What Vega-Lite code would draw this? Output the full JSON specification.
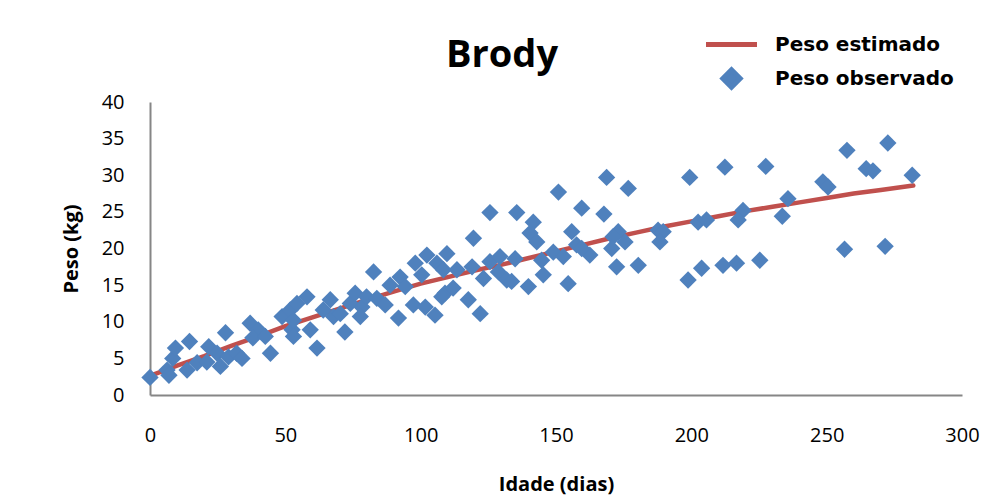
{
  "$schema": "https://vega.github.io/schema/vega-lite/v6.json",
  "width": 812,
  "height": 293,
  "autosize": {"type": "none"},
  "padding": {"left": 150, "top": 102, "right": 35, "bottom": 107},
  "background": "white",
  "config": {"view": {"stroke": null}, "font": "Open Sans"},
  "title": {"text": "Brody", "fontSize": 38, "font": "Open Sans", "fontWeight": "bold", "color": "black", "anchor": "middle", "dx": -54, "baseline": "alphabetic", "offset": -72},
  "datasets": {
    "estimado": [
      {"idade": 0, "peso": 2.6, "serie": "Peso estimado"},
      {"idade": 10, "peso": 4.0, "serie": "Peso estimado"},
      {"idade": 20, "peso": 5.3, "serie": "Peso estimado"},
      {"idade": 30, "peso": 6.7, "serie": "Peso estimado"},
      {"idade": 40, "peso": 8.0, "serie": "Peso estimado"},
      {"idade": 50, "peso": 9.4, "serie": "Peso estimado"},
      {"idade": 60, "peso": 10.6, "serie": "Peso estimado"},
      {"idade": 70, "peso": 11.8, "serie": "Peso estimado"},
      {"idade": 80, "peso": 13.0, "serie": "Peso estimado"},
      {"idade": 90, "peso": 14.1, "serie": "Peso estimado"},
      {"idade": 100, "peso": 15.2, "serie": "Peso estimado"},
      {"idade": 110, "peso": 16.1, "serie": "Peso estimado"},
      {"idade": 120, "peso": 17.0, "serie": "Peso estimado"},
      {"idade": 130, "peso": 17.8, "serie": "Peso estimado"},
      {"idade": 140, "peso": 18.7, "serie": "Peso estimado"},
      {"idade": 150, "peso": 19.6, "serie": "Peso estimado"},
      {"idade": 160, "peso": 20.5, "serie": "Peso estimado"},
      {"idade": 170, "peso": 21.4, "serie": "Peso estimado"},
      {"idade": 180, "peso": 22.2, "serie": "Peso estimado"},
      {"idade": 190, "peso": 23.0, "serie": "Peso estimado"},
      {"idade": 200, "peso": 23.7, "serie": "Peso estimado"},
      {"idade": 210, "peso": 24.4, "serie": "Peso estimado"},
      {"idade": 220, "peso": 25.1, "serie": "Peso estimado"},
      {"idade": 230, "peso": 25.7, "serie": "Peso estimado"},
      {"idade": 240, "peso": 26.3, "serie": "Peso estimado"},
      {"idade": 250, "peso": 26.9, "serie": "Peso estimado"},
      {"idade": 260, "peso": 27.5, "serie": "Peso estimado"},
      {"idade": 270, "peso": 28.0, "serie": "Peso estimado"},
      {"idade": 282, "peso": 28.6, "serie": "Peso estimado"}
    ],
    "observado": [
      {"idade": 0, "peso": 2.4, "serie": "Peso observado"},
      {"idade": 6.3, "peso": 3.4, "serie": "Peso observado"},
      {"idade": 7, "peso": 2.7, "serie": "Peso observado"},
      {"idade": 8.4, "peso": 5.0, "serie": "Peso observado"},
      {"idade": 9.4, "peso": 6.4, "serie": "Peso observado"},
      {"idade": 14.6, "peso": 7.3, "serie": "Peso observado"},
      {"idade": 13.7, "peso": 3.4, "serie": "Peso observado"},
      {"idade": 17.4, "peso": 4.4, "serie": "Peso observado"},
      {"idade": 21.7, "peso": 6.6, "serie": "Peso observado"},
      {"idade": 21, "peso": 4.5, "serie": "Peso observado"},
      {"idade": 24.8, "peso": 5.7, "serie": "Peso observado"},
      {"idade": 27.9, "peso": 8.5, "serie": "Peso observado"},
      {"idade": 26, "peso": 3.9, "serie": "Peso observado"},
      {"idade": 29, "peso": 5.2, "serie": "Peso observado"},
      {"idade": 32, "peso": 5.7, "serie": "Peso observado"},
      {"idade": 34, "peso": 5.0, "serie": "Peso observado"},
      {"idade": 37, "peso": 9.8, "serie": "Peso observado"},
      {"idade": 40, "peso": 8.9, "serie": "Peso observado"},
      {"idade": 38, "peso": 7.8, "serie": "Peso observado"},
      {"idade": 42.6, "peso": 8.0, "serie": "Peso observado"},
      {"idade": 44.5, "peso": 5.7, "serie": "Peso observado"},
      {"idade": 48.8, "peso": 10.7, "serie": "Peso observado"},
      {"idade": 51.8, "peso": 11.6, "serie": "Peso observado"},
      {"idade": 52.5, "peso": 8.9, "serie": "Peso observado"},
      {"idade": 53, "peso": 8.0, "serie": "Peso observado"},
      {"idade": 54.3, "peso": 12.5, "serie": "Peso observado"},
      {"idade": 58, "peso": 13.4, "serie": "Peso observado"},
      {"idade": 53, "peso": 10.2, "serie": "Peso observado"},
      {"idade": 59.2, "peso": 8.9, "serie": "Peso observado"},
      {"idade": 61.7, "peso": 6.4, "serie": "Peso observado"},
      {"idade": 64, "peso": 11.6, "serie": "Peso observado"},
      {"idade": 66.6, "peso": 13.0, "serie": "Peso observado"},
      {"idade": 67.8, "peso": 10.7, "serie": "Peso observado"},
      {"idade": 72, "peso": 8.6, "serie": "Peso observado"},
      {"idade": 70.3, "peso": 11.1, "serie": "Peso observado"},
      {"idade": 74, "peso": 12.5, "serie": "Peso observado"},
      {"idade": 75.8, "peso": 13.9, "serie": "Peso observado"},
      {"idade": 78.3, "peso": 12.0, "serie": "Peso observado"},
      {"idade": 77.7, "peso": 10.7, "serie": "Peso observado"},
      {"idade": 80, "peso": 13.4, "serie": "Peso observado"},
      {"idade": 82.6, "peso": 16.8, "serie": "Peso observado"},
      {"idade": 83.8, "peso": 13.2, "serie": "Peso observado"},
      {"idade": 86.9, "peso": 12.3, "serie": "Peso observado"},
      {"idade": 88.7, "peso": 15.0, "serie": "Peso observado"},
      {"idade": 91.8, "peso": 10.5, "serie": "Peso observado"},
      {"idade": 92.4, "peso": 16.1, "serie": "Peso observado"},
      {"idade": 94.3, "peso": 14.8, "serie": "Peso observado"},
      {"idade": 98, "peso": 18.0, "serie": "Peso observado"},
      {"idade": 97.3, "peso": 12.3, "serie": "Peso observado"},
      {"idade": 100.4, "peso": 16.4, "serie": "Peso observado"},
      {"idade": 101.7, "peso": 12.0, "serie": "Peso observado"},
      {"idade": 102.3, "peso": 19.1, "serie": "Peso observado"},
      {"idade": 105.3, "peso": 10.9, "serie": "Peso observado"},
      {"idade": 106, "peso": 18.0, "serie": "Peso observado"},
      {"idade": 109, "peso": 13.9, "serie": "Peso observado"},
      {"idade": 108.4, "peso": 17.1, "serie": "Peso observado"},
      {"idade": 109.7, "peso": 19.3, "serie": "Peso observado"},
      {"idade": 125.6, "peso": 24.9, "serie": "Peso observado"},
      {"idade": 135.5, "peso": 24.9, "serie": "Peso observado"},
      {"idade": 150.9, "peso": 27.7, "serie": "Peso observado"},
      {"idade": 159.5, "peso": 25.5, "serie": "Peso observado"},
      {"idade": 119.5, "peso": 21.4, "serie": "Peso observado"},
      {"idade": 141.6, "peso": 23.6, "serie": "Peso observado"},
      {"idade": 140.4, "peso": 22.1, "serie": "Peso observado"},
      {"idade": 142.9, "peso": 20.9, "serie": "Peso observado"},
      {"idade": 155.8, "peso": 22.3, "serie": "Peso observado"},
      {"idade": 113.4, "peso": 17.1, "serie": "Peso observado"},
      {"idade": 119, "peso": 17.5, "serie": "Peso observado"},
      {"idade": 112, "peso": 14.6, "serie": "Peso observado"},
      {"idade": 107.8, "peso": 13.4, "serie": "Peso observado"},
      {"idade": 117.6, "peso": 13.0, "serie": "Peso observado"},
      {"idade": 122, "peso": 11.1, "serie": "Peso observado"},
      {"idade": 123.2, "peso": 15.9, "serie": "Peso observado"},
      {"idade": 125.6, "peso": 18.2, "serie": "Peso observado"},
      {"idade": 129.3, "peso": 18.9, "serie": "Peso observado"},
      {"idade": 128.7, "peso": 16.8, "serie": "Peso observado"},
      {"idade": 131.8, "peso": 15.7, "serie": "Peso observado"},
      {"idade": 134.9, "peso": 18.6, "serie": "Peso observado"},
      {"idade": 133.6, "peso": 15.5, "serie": "Peso observado"},
      {"idade": 139.8, "peso": 14.8, "serie": "Peso observado"},
      {"idade": 144.7, "peso": 18.4, "serie": "Peso observado"},
      {"idade": 145.3, "peso": 16.4, "serie": "Peso observado"},
      {"idade": 149, "peso": 19.5, "serie": "Peso observado"},
      {"idade": 152.7, "peso": 18.9, "serie": "Peso observado"},
      {"idade": 154.5, "peso": 15.2, "serie": "Peso observado"},
      {"idade": 157.6, "peso": 20.5, "serie": "Peso observado"},
      {"idade": 162.5, "peso": 19.1, "serie": "Peso observado"},
      {"idade": 168.7, "peso": 29.7, "serie": "Peso observado"},
      {"idade": 176.7, "peso": 28.2, "serie": "Peso observado"},
      {"idade": 199.4, "peso": 29.7, "serie": "Peso observado"},
      {"idade": 212.4, "peso": 31.1, "serie": "Peso observado"},
      {"idade": 167.7, "peso": 24.7, "serie": "Peso observado"},
      {"idade": 173, "peso": 22.3, "serie": "Peso observado"},
      {"idade": 171.1, "peso": 21.6, "serie": "Peso observado"},
      {"idade": 175.5, "peso": 20.9, "serie": "Peso observado"},
      {"idade": 170.6, "peso": 20.0, "serie": "Peso observado"},
      {"idade": 159.5, "peso": 20.0, "serie": "Peso observado"},
      {"idade": 172.4, "peso": 17.5, "serie": "Peso observado"},
      {"idade": 180.4, "peso": 17.7, "serie": "Peso observado"},
      {"idade": 187.7, "peso": 22.5, "serie": "Peso observado"},
      {"idade": 189.6, "peso": 22.3, "serie": "Peso observado"},
      {"idade": 188.4, "peso": 20.9, "serie": "Peso observado"},
      {"idade": 202.5, "peso": 23.6, "serie": "Peso observado"},
      {"idade": 205.6, "peso": 23.9, "serie": "Peso observado"},
      {"idade": 219.1, "peso": 25.2, "serie": "Peso observado"},
      {"idade": 217.3, "peso": 23.9, "serie": "Peso observado"},
      {"idade": 198.8, "peso": 15.7, "serie": "Peso observado"},
      {"idade": 203.8, "peso": 17.3, "serie": "Peso observado"},
      {"idade": 211.7, "peso": 17.7, "serie": "Peso observado"},
      {"idade": 216.7, "peso": 18.0, "serie": "Peso observado"},
      {"idade": 225.3, "peso": 18.4, "serie": "Peso observado"},
      {"idade": 227.5, "peso": 31.2, "serie": "Peso observado"},
      {"idade": 257.5, "peso": 33.4, "serie": "Peso observado"},
      {"idade": 272.6, "peso": 34.4, "serie": "Peso observado"},
      {"idade": 264.6, "peso": 30.9, "serie": "Peso observado"},
      {"idade": 267.1, "peso": 30.6, "serie": "Peso observado"},
      {"idade": 281.6, "peso": 30.0, "serie": "Peso observado"},
      {"idade": 248.6, "peso": 29.1, "serie": "Peso observado"},
      {"idade": 250.5, "peso": 28.4, "serie": "Peso observado"},
      {"idade": 235.7, "peso": 26.8, "serie": "Peso observado"},
      {"idade": 233.6, "peso": 24.4, "serie": "Peso observado"},
      {"idade": 256.6, "peso": 19.9, "serie": "Peso observado"},
      {"idade": 271.6, "peso": 20.3, "serie": "Peso observado"}
    ]
  },
  "encoding": {
    "x": {
      "field": "idade", "type": "quantitative",
      "scale": {"domain": [0, 300], "nice": false, "zero": false},
      "axis": {
        "title": "Idade (dias)", "values": [0, 50, 100, 150, 200, 250, 300],
        "grid": false, "ticks": false, "domainColor": "#868686", "domainWidth": 2, "labelFlush": false,
        "labelFont": "Open Sans", "labelFontSize": 20, "labelColor": "black", "labelPadding": 30,
        "titleFont": "Open Sans", "titleFontSize": 20, "titleFontWeight": "bold", "titleColor": "black", "titlePadding": 29
      }
    },
    "y": {
      "field": "peso", "type": "quantitative",
      "scale": {"domain": [0, 40], "nice": false, "zero": false},
      "axis": {
        "title": "Peso (kg)", "values": [0, 5, 10, 15, 20, 25, 30, 35, 40],
        "grid": false, "ticks": false, "domainColor": "#868686", "domainWidth": 2, "labelFlush": false,
        "labelFont": "Open Sans", "labelFontSize": 20, "labelColor": "black", "labelPadding": 26,
        "titleFont": "Open Sans", "titleFontSize": 20, "titleFontWeight": "bold", "titleColor": "black", "titlePadding": 20
      }
    },
    "color": {
      "field": "serie", "type": "nominal",
      "scale": {"domain": ["Peso estimado", "Peso observado"], "range": ["#C0504D", "#4F81BD"]},
      "legend": {
        "title": null, "orient": "none", "legendX": 570, "legendY": -69,
        "padding": 0, "symbolSize": 2600, "rowPadding": 4, "labelOffset": 32, "labelLimit": 400,
        "labelFont": "DejaVu Sans", "labelFontWeight": "bold", "labelFontSize": 20, "labelColor": "black",
        "encode": {
          "symbols": {
            "update": {
              "shape": {"signal": "datum.value === 'Peso estimado' ? 'stroke' : 'diamond'"},
              "size": {"signal": "datum.value === 'Peso estimado' ? 2600 : 300"},
              "stroke": {"signal": "datum.value === 'Peso estimado' ? '#C0504D' : 'transparent'"},
              "strokeWidth": {"value": 5},
              "fill": {"value": "#4F81BD"},
              "opacity": {"value": 1},
              "fillOpacity": {"value": 1}
            }
          }
        }
      }
    }
  },
  "layer": [
    {
      "data": {"name": "estimado"},
      "mark": {"type": "line", "strokeWidth": 4.5, "strokeCap": "round"}
    },
    {
      "data": {"name": "observado"},
      "mark": {"type": "point", "shape": "diamond", "filled": true, "opacity": 1, "size": 300}
    }
  ]
}
